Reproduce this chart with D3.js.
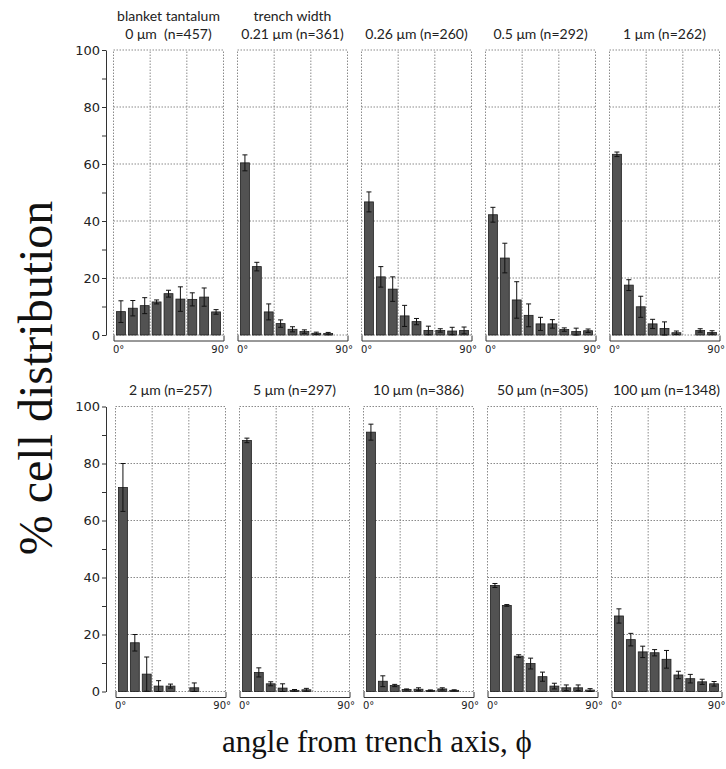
<!DOCTYPE html>
<html>
<head>
<meta charset="utf-8">
<script src="https://cdn.jsdelivr.net/npm/d3@7/dist/d3.min.js"></script>
<style>
  body { margin: 0; background: #fff; }
  svg { display: block; }
  .title { font-family: Lato, "Open Sans", sans-serif; font-size: 14px; fill: #222; white-space: pre; }
  .ytick text { font-family: "DejaVu Sans", sans-serif; font-size: 13px; fill: #222; }
  .xaxis text { font-family: "DejaVu Sans", sans-serif; font-size: 10px; fill: #222; }
  .grid line { stroke: #8a8a8a; stroke-width: 1; stroke-dasharray: 1.5,1.5; }
</style>
</head>
<body>
<svg id="chart" width="726" height="769"></svg>
<script>
// bins are 10 degree wide, 0-90 degrees
const bins = ['0-10', '10-20', '20-30', '30-40', '40-50', '50-60', '60-70', '70-80', '80-90'];
const angleTicks = [0, 90];
const yTicks = [0, 10, 20, 30, 40, 50, 60, 70, 80, 90, 100];

const panelTitles = [
  ['blanket tantalum', '0 μm  (n=457)'],
  ['trench width', '0.21 μm (n=361)'],
  ['0.26 μm (n=260)'],
  ['0.5 μm (n=292)'],
  ['1 μm (n=262)'],
  ['2 μm (n=257)'],
  ['5 μm (n=297)'],
  ['10 μm (n=386)'],
  ['50 μm (n=305)'],
  ['100 μm (n=1348)']
];

// mean % of cells per bin, and error bar half-length
const meanBlanket = [8.2, 9.4, 10.3, 11.6, 14.5, 12.6, 12.5, 13.3, 8.1];
const errBlanket = [3.8, 2.7, 2.8, 0.7, 1.2, 4.3, 2.3, 3.2, 0.8];
const mean021 = [60.4, 24.0, 8.1, 4.0, 2.0, 1.2, 0.6, 0.5, 0];
const err021 = [2.8, 1.5, 2.8, 1.3, 0.9, 0.6, 0.4, 0.4, 0];
const mean026 = [46.7, 20.4, 16.1, 6.7, 4.7, 1.6, 1.6, 1.4, 1.6];
const err026 = [3.5, 3.6, 4.3, 3.7, 1.1, 1.5, 0.6, 1.3, 1.2];
const mean05 = [42.2, 27.0, 12.3, 6.9, 3.9, 3.9, 1.9, 1.2, 1.5];
const err05 = [2.6, 5.2, 6.4, 4.0, 2.3, 1.5, 0.6, 1.2, 0.6];
const mean1 = [63.4, 17.5, 9.9, 3.9, 2.3, 0.8, 0, 1.6, 0.9];
const err1 = [0.8, 1.9, 3.7, 1.6, 2.3, 0.6, 0, 0.6, 0.6];
const mean2 = [71.6, 17.1, 6.1, 1.9, 1.9, 0, 1.3, 0, 0];
const err2 = [8.4, 2.9, 6.0, 1.9, 0.7, 0, 1.7, 0, 0];
const mean5 = [88.1, 6.7, 2.7, 1.2, 0.4, 0.6, 0, 0, 0];
const err5 = [0.8, 1.6, 0.7, 1.5, 0.3, 0.5, 0, 0, 0];
const mean10 = [91.0, 3.6, 2.1, 0.7, 0.8, 0.35, 0.9, 0.4, 0];
const err10 = [2.8, 1.9, 0.4, 0.2, 0.5, 0.2, 0.4, 0.2, 0];
const mean50 = [37.2, 30.2, 12.4, 9.8, 5.2, 1.9, 1.3, 1.3, 0.5];
const err50 = [0.7, 0.3, 0.5, 1.9, 1.6, 1.0, 1.0, 1.0, 0.5];
const mean100 = [26.5, 18.2, 13.9, 13.6, 11.3, 5.8, 4.5, 3.4, 2.7];
const err100 = [2.5, 2.2, 2.0, 1.1, 3.1, 1.3, 1.5, 0.9, 0.8];

const means = [meanBlanket, mean021, mean026, mean05, mean1, mean2, mean5, mean10, mean50, mean100];
const errs = [errBlanket, err021, err026, err05, err1, err2, err5, err10, err50, err100];

const svg = d3.select('#chart');

// layout of the two rows of small multiples
const panelW = 110;
const panelStep = 124;
const rows = [
  { left: 113.5, top: 50, bottom: 335 },
  { left: 115.5, top: 406.5, bottom: 691.5 }
];

means.forEach((mean, i) => {
  const row = rows[Math.floor(i / 5)];
  const col = i % 5;
  const x0 = row.left + col * panelStep;
  const x1 = x0 + panelW;

  const y = d3.scaleLinear().domain([0, 100]).range([row.bottom, row.top]);
  const xBand = d3.scaleBand().domain(bins).range([x0, x1]).padding(0.25);
  const xLin = d3.scaleLinear().domain([0, 90]).range([x0, x1]);

  const g = svg.append('g');

  // dotted grid, including the panel frame
  const grid = g.append('g').attr('class', 'grid');
  grid.selectAll('.h').data([0, 20, 40, 60, 80, 100]).join('line')
    .attr('x1', x0).attr('x2', x1)
    .attr('y1', d => y(d)).attr('y2', d => y(d));
  grid.selectAll('.v').data([0, 30, 60, 90]).join('line')
    .attr('x1', d => xLin(d)).attr('x2', d => xLin(d))
    .attr('y1', y(0)).attr('y2', y(100));

  // bars
  g.selectAll('rect').data(mean).join('rect')
    .attr('x', (d, j) => xBand(bins[j]))
    .attr('width', xBand.bandwidth())
    .attr('y', d => y(d))
    .attr('height', d => y(0) - y(d))
    .attr('fill', '#525252')
    .attr('stroke', '#1e1e1e')
    .attr('stroke-width', 0.8);

  // error bars
  const capW = 2.5;
  const eb = g.selectAll('.err').data(mean.map((m, j) => ({ m, e: errs[i][j], b: bins[j] })).filter(d => d.e > 0))
    .join('g').attr('class', 'err')
    .attr('stroke', '#111').attr('stroke-width', 1);
  const cx = d => xBand(d.b) + xBand.bandwidth() / 2;
  eb.append('line')
    .attr('x1', cx).attr('x2', cx)
    .attr('y1', d => y(d.m + d.e)).attr('y2', d => y(Math.max(0, d.m - d.e)));
  eb.append('line')
    .attr('x1', d => cx(d) - capW).attr('x2', d => cx(d) + capW)
    .attr('y1', d => y(d.m + d.e)).attr('y2', d => y(d.m + d.e));
  eb.append('line')
    .attr('x1', d => cx(d) - capW).attr('x2', d => cx(d) + capW)
    .attr('y1', d => y(Math.max(0, d.m - d.e))).attr('y2', d => y(Math.max(0, d.m - d.e)));

  // bracket-like angle axis below the panel
  const xAxis = g.append('g').attr('class', 'xaxis')
    .attr('transform', 'translate(0,' + (row.bottom + 5.5) + ')')
    .call(d3.axisBottom(xLin).tickValues(angleTicks).tickSize(0).tickSizeOuter(-5).tickPadding(5)
      .tickFormat(d => d + '°'));
  xAxis.select('.domain').attr('stroke', '#333');
  xAxis.selectAll('.tick text')
    .attr('text-anchor', d => d === 0 ? 'start' : 'end')
    .attr('dx', d => d === 0 ? -1 : Math.min(5, 725 - x1));

  // panel title
  const titles = panelTitles[i];
  const baseY = row.top - 11.5;
  titles.forEach((t, k) => {
    svg.append('text').attr('class', 'title')
      .attr('x', (x0 + x1) / 2)
      .attr('y', baseY - (titles.length - 1 - k) * 18)
      .attr('text-anchor', 'middle')
      .text(t);
  });

  // one y axis per row
  if (col === 0) {
    const yAxis = svg.append('g').attr('class', 'ytick')
      .attr('transform', 'translate(106,0)')
      .call(d3.axisLeft(y).tickValues(yTicks).tickSize(4).tickSizeOuter(0).tickPadding(2)
        .tickFormat(d => d % 20 === 0 ? d : ''));
    yAxis.selectAll('path, line').attr('stroke', '#333');
  }
});

// axis titles
svg.append('text')
  .attr('transform', 'translate(52,378) rotate(-90)')
  .attr('text-anchor', 'middle')
  .style('font-family', '"Liberation Serif", serif')
  .style('font-size', '48px')
  .attr('fill', '#111')
  .text('% cell distribution');

svg.append('text')
  .attr('x', 377).attr('y', 752)
  .attr('text-anchor', 'middle')
  .style('font-family', '"Liberation Serif", serif')
  .style('font-size', '31px')
  .attr('fill', '#111')
  .text('angle from trench axis, ϕ');
</script>
</body>
</html>
